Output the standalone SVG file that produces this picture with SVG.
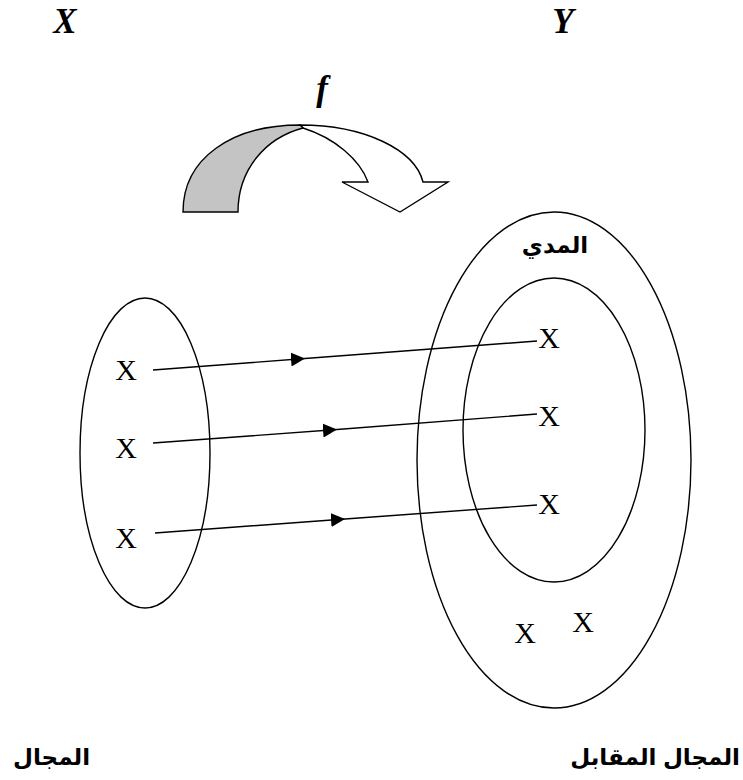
<svg xmlns="http://www.w3.org/2000/svg" width="743" height="780" viewBox="0 0 743 780">
<style>
.ln{fill:none;stroke:#000;stroke-width:1.4}
.shape{fill:none;stroke:#000;stroke-width:1.4}
.lbl{font-family:"Liberation Serif","Times New Roman",serif;font-size:30px;fill:#000;text-anchor:middle}
.big{font-family:"Liberation Serif","Times New Roman",serif;font-size:35px;font-weight:bold;font-style:italic;fill:#000;text-anchor:middle}
.ar{font-family:"Liberation Sans","DejaVu Sans",sans-serif;font-weight:bold;fill:#000}
</style>
<defs>
<marker id="tri" markerUnits="userSpaceOnUse" markerWidth="16" markerHeight="14" refX="14" refY="7" orient="auto">
<path d="M0,0 L14,7 L0,14 Z" fill="#000"/>
</marker>
</defs>
<text class="big" x="65" y="33">X</text>
<text class="big" x="563" y="33">Y</text>
<text class="big" x="322" y="100">f</text>
<g id="mapping-arrow">
<path d="M300,125 C365,125 415,150 423,182 L448,182 L400,212 L342,182 L368,182 C360,160 335,138 303,128 Z" fill="#fff" stroke="#000" stroke-width="1.4" stroke-linejoin="miter"/>
<path d="M183,212 C183,158 232,125 300,125 L303,128 C265,138 238,170 238,212 Z" fill="#c4c4c4" stroke="#000" stroke-width="1.4"/>
</g>
<g id="domain">
<ellipse class="shape" cx="145" cy="453" rx="65" ry="155"/>
<text class="lbl" x="126" y="380">X</text>
<text class="lbl" x="126" y="458">X</text>
<text class="lbl" x="126" y="548">X</text>
</g>
<g id="codomain">
<ellipse class="shape" cx="554" cy="460" rx="137" ry="248"/>
<text class="lbl" x="525" y="643">X</text>
<text class="lbl" x="583" y="632">X</text>
</g>
<g id="range">
<ellipse class="shape" cx="554" cy="430" rx="91" ry="152"/>
<text class="ar" x="555" y="253" font-size="23" text-anchor="middle">المدي</text>
<text class="lbl" x="549" y="348">X</text>
<text class="lbl" x="549" y="426">X</text>
<text class="lbl" x="549" y="514">X</text>
</g>
<g id="connectors">
<path class="ln" d="M153,370 L305,358.5 L537,341" marker-mid="url(#tri)"/>
<path class="ln" d="M153,443 L337,429.5 L537,414" marker-mid="url(#tri)"/>
<path class="ln" d="M155,533 L345,519 L537,505" marker-mid="url(#tri)"/>
</g>
<text id="domain-label" class="ar" x="13" y="765" font-size="23" text-anchor="start">المجال</text>
<text id="codomain-label" class="ar" x="740" y="765" font-size="23" text-anchor="end">المجال المقابل</text>
</svg>
